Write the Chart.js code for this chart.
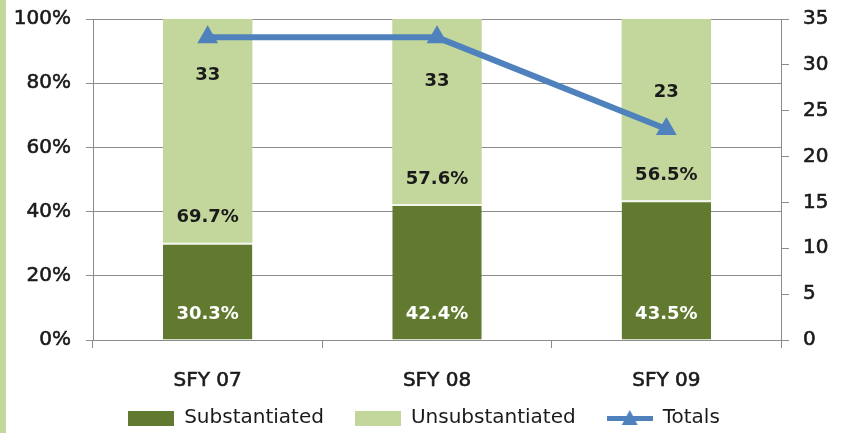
<!DOCTYPE html>
<html>
<head>
<meta charset="utf-8">
<script src="https://cdn.jsdelivr.net/npm/chart.js@4/dist/chart.umd.min.js"></script>
<style>
  html, body { margin: 0; padding: 0; background: #fff; }
  #chart { display: block; }
</style>
</head>
<body>
<canvas id="chart" width="848" height="433"></canvas>
<script>
// data
const years = ['SFY 07', 'SFY 08', 'SFY 09'];
const substantiated = [30.3, 42.4, 43.5];
const unsubstantiated = [69.7, 57.6, 56.5];
const totals = [33, 33, 23];
const seriesNames = ['Substantiated', 'Unsubstantiated', 'Totals'];

const DARK = '#617a30';
const LIGHT = '#c3d69b';
const BLUE = '#4f81bd';
const GRID = '#8c8c8c';
const INK = '#1a1a1a';
const FONT = '"DejaVu Sans", sans-serif';

// small canvases used as legend icons
function boxIcon(color) {
    const c = document.createElement('canvas');
    c.width = 46; c.height = 15;
    const g = c.getContext('2d');
    g.fillStyle = color;
    g.fillRect(0, 0, 46, 15);
    return c;
}
function lineIcon(color) {
    const c = document.createElement('canvas');
    c.width = 46; c.height = 20;
    const g = c.getContext('2d');
    g.fillStyle = color;
    g.fillRect(0, 8, 46, 5);
    g.beginPath();
    g.moveTo(23, 2); g.lineTo(31, 17); g.lineTo(15, 17); g.closePath();
    g.fill();
    return c;
}
const legendIcons = [boxIcon(DARK), boxIcon(LIGHT), lineIcon(BLUE)];

// left green frame edge
const frameEdge = {
    id: 'frameEdge',
    beforeDraw(chart) {
        const ctx = chart.ctx;
        ctx.save();
        ctx.fillStyle = '#c3d69b';
        ctx.fillRect(0, 0, 6, chart.height);
        ctx.restore();
    }
};

// fix the legend band height, and let the x labels draw below their box
const legendBand = {
    id: 'legendBand',
    beforeInit(chart) {
        const lg = chart.legend;
        if (!lg) return;
        const fit = lg.fit;
        lg.fit = function () {
            fit.call(this);
            this.height = 56;
        };
    },
    afterLayout(chart) {
        chart.scales.x.bottom = chart.height;
    }
};

// value labels
const valueLabels = {
    id: 'valueLabels',
    afterDatasetsDraw(chart) {
        const ctx = chart.ctx;
        ctx.save();
        ctx.font = 'bold 18px ' + FONT;
        ctx.textAlign = 'center';
        ctx.textBaseline = 'middle';
        [0, 1].forEach(di => {
            const meta = chart.getDatasetMeta(di);
            const vals = chart.data.datasets[di].data;
            ctx.fillStyle = di === 0 ? '#ffffff' : INK;
            meta.data.forEach((bar, i) => {
                ctx.fillText(vals[i].toFixed(1) + '%', bar.x, bar.base - 25);
            });
        });
        // totals labels sit inside the light segment, anchored on the count axis
        const y2 = chart.scales.y2;
        const anchors = [28.9, 28.2, 27.0];
        const meta = chart.getDatasetMeta(2);
        ctx.fillStyle = INK;
        meta.data.forEach((pt, i) => {
            ctx.fillText(String(totals[i]), pt.x, y2.getPixelForValue(anchors[i]));
        });
        ctx.restore();
    }
};

const tickFont = { family: FONT, size: 20 };
function noPad(scale) {
    scale.paddingTop = 0;
    scale.paddingBottom = 0;
    scale.paddingLeft = 0;
    scale.paddingRight = 0;
}

new Chart(document.getElementById('chart'), {
    type: 'bar',
    data: {
        labels: years,
        datasets: [
            {
                label: seriesNames[0],
                data: substantiated,
                backgroundColor: DARK,
                borderColor: '#f2f5ea',
                borderWidth: { top: 2 },
                borderSkipped: false,
                stack: 's',
                yAxisID: 'y',
                order: 2
            },
            {
                label: seriesNames[1],
                data: unsubstantiated,
                backgroundColor: LIGHT,
                borderWidth: 0,
                stack: 's',
                yAxisID: 'y',
                order: 2
            },
            {
                type: 'line',
                label: seriesNames[2],
                data: totals,
                borderColor: BLUE,
                backgroundColor: BLUE,
                borderWidth: 6,
                pointStyle: 'triangle',
                pointRadius: 12,
                pointHoverRadius: 12,
                pointBackgroundColor: BLUE,
                pointBorderWidth: 0,
                tension: 0,
                yAxisID: 'y2',
                order: 0
            }
        ]
    },
    options: {
        responsive: false,
        animation: false,
        layout: { padding: { top: 19, left: 0, right: 0, bottom: 0 } },
        datasets: {
            bar: { categoryPercentage: 1, barPercentage: 0.39 }
        },
        scales: {
            x: {
                stacked: true,
                offset: true,
                grid: {
                    offset: true,
                    drawOnChartArea: false,
                    drawTicks: true,
                    tickLength: 8,
                    color: GRID
                },
                border: { color: GRID },
                ticks: { color: INK, font: tickFont, padding: 21, textStrokeColor: INK, textStrokeWidth: 0.6 },
                afterFit(scale) { scale.height = 37; noPad(scale); }
            },
            y: {
                stacked: true,
                min: 0,
                max: 100,
                position: 'left',
                grid: { color: GRID, tickLength: 7 },
                border: { color: GRID },
                ticks: {
                    stepSize: 20,
                    color: INK,
                    padding: 15,
                    font: tickFont,
                    textStrokeColor: INK,
                    textStrokeWidth: 0.6,
                    callback: v => v + '%'
                },
                afterFit(scale) { scale.width = 93; noPad(scale); }
            },
            y2: {
                min: 0,
                max: 35,
                position: 'right',
                grid: { drawOnChartArea: false, color: GRID, tickLength: 8 },
                border: { color: GRID },
                ticks: {
                    stepSize: 5,
                    color: INK,
                    padding: 14,
                    font: tickFont,
                    textStrokeColor: INK,
                    textStrokeWidth: 0.6
                },
                afterFit(scale) { scale.width = 67; noPad(scale); }
            }
        },
        plugins: {
            legend: {
                position: 'bottom',
                labels: {
                    usePointStyle: true,
                    pointStyleWidth: 46,
                    boxHeight: 15,
                    padding: 31,
                    color: INK,
                    font: { family: FONT, size: 20 },
                    sort: (a, b) => a.datasetIndex - b.datasetIndex,
                    generateLabels(chart) {
                        const items = Chart.defaults.plugins.legend.labels.generateLabels(chart);
                        items.forEach(it => { it.pointStyle = legendIcons[it.datasetIndex]; });
                        return items;
                    }
                }
            },
            tooltip: { enabled: false }
        }
    },
    plugins: [frameEdge, legendBand, valueLabels]
});
</script>
</body>
</html>
